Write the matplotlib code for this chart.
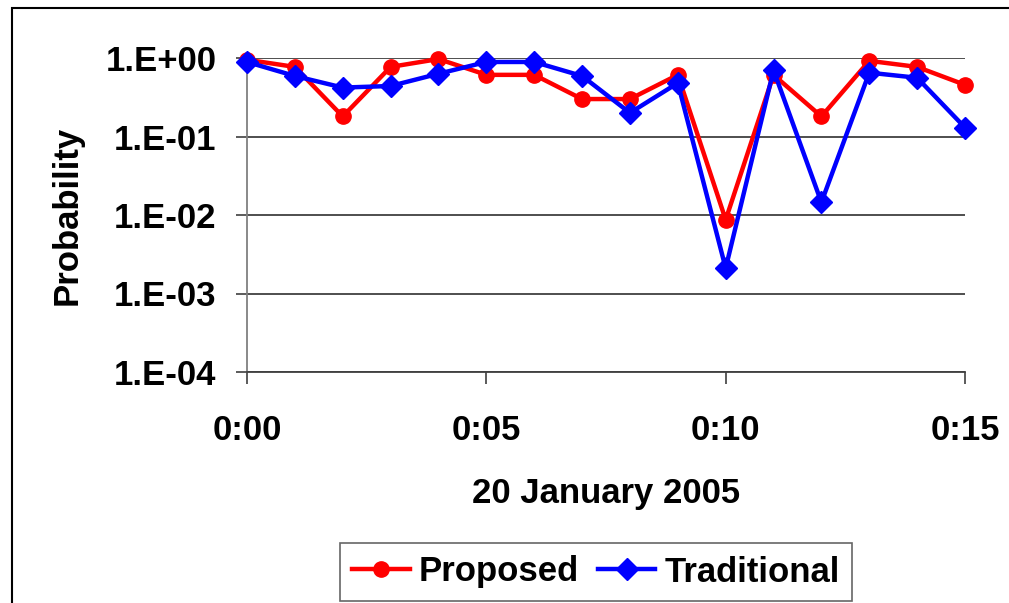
import numpy as np
import matplotlib
matplotlib.use("Agg")
import matplotlib.pyplot as plt
from matplotlib.patches import Rectangle

# data (one point per minute, 20 January 2005)
minutes = list(range(16))
proposed = [0.95, 0.77, 0.18, 0.77, 0.97, 0.61, 0.61, 0.30,
            0.30, 0.61, 0.0087, 0.61, 0.18, 0.92, 0.77, 0.455]
traditional = [0.89, 0.59, 0.42, 0.44, 0.63, 0.89, 0.89, 0.59,
               0.20, 0.48, 0.0021, 0.70, 0.0145, 0.65, 0.56, 0.13]
xticks = [0, 5, 10, 15]
xtick_labels = ["0:00", "0:05", "0:10", "0:15"]
yticks = [1e0, 1e-1, 1e-2, 1e-3, 1e-4]
ytick_labels = ["1.E+00", "1.E-01", "1.E-02", "1.E-03", "1.E-04"]

plt.rcParams["font.family"] = ["Liberation Sans", "DejaVu Sans"]
plt.rcParams["font.weight"] = "bold"

fig = plt.figure(figsize=(10.09, 6.03), dpi=100)
ax = fig.add_axes([247/1009, 1 - 372/603, (965 - 247)/1009, (372 - 58)/603])

ax.plot(minutes, proposed, color="#ff0000", lw=3.2, marker="o", ms=11,
        label="Proposed", clip_on=False, zorder=3)
ax.plot(minutes, traditional, color="#0000ff", lw=3.2, marker="D", ms=11.5,
        label="Traditional", clip_on=False, zorder=4)

ax.set_yscale("log")
ax.set_ylim(1e-4, 1)
ax.set_xlim(0, 15)
ax.set_yticks(yticks)
ax.set_yticklabels(ytick_labels)
ax.yaxis.set_minor_locator(plt.NullLocator())
ax.set_xticks(xticks)
ax.set_xticklabels(xtick_labels)

for y in yticks:
    ax.axhline(y, color="#404040", lw=1.3, zorder=1)

ax.spines["top"].set_visible(False)
ax.spines["right"].set_visible(False)
ax.spines["left"].set_color("#808080")
ax.spines["left"].set_linewidth(1.3)
ax.spines["bottom"].set_color("#404040")
ax.spines["bottom"].set_linewidth(1.3)

ax.tick_params(axis="y", length=8, width=1.2, color="#404040", pad=14, labelsize=25)
ax.tick_params(axis="x", length=8.5, width=1.2, color="#404040", pad=22, labelsize=25)

ax.set_xlabel("20 January 2005", fontsize=25, fontweight="bold", labelpad=21)
ax.set_ylabel("Probability", fontsize=25, fontweight="bold", labelpad=16)

leg = ax.legend(loc="center", bbox_to_anchor=(596/1009, 1 - 572/603),
                bbox_transform=fig.transFigure, ncol=2,
                frameon=True, fancybox=False, handlelength=1.65,
                handletextpad=0.26, columnspacing=0.55, borderpad=0.35,
                borderaxespad=0, prop={"weight": "bold", "size": 25})
leg.get_frame().set_edgecolor("#404040")
leg.get_frame().set_linewidth(1.2)

# outer chart frame (only top and left edges visible in the crop)
fig.add_artist(Rectangle((12/1009, -0.5), 2, 1.5 - 8/603, transform=fig.transFigure,
                         fill=False, ec="black", lw=1.5))

fig.savefig("out.png", dpi=100)
